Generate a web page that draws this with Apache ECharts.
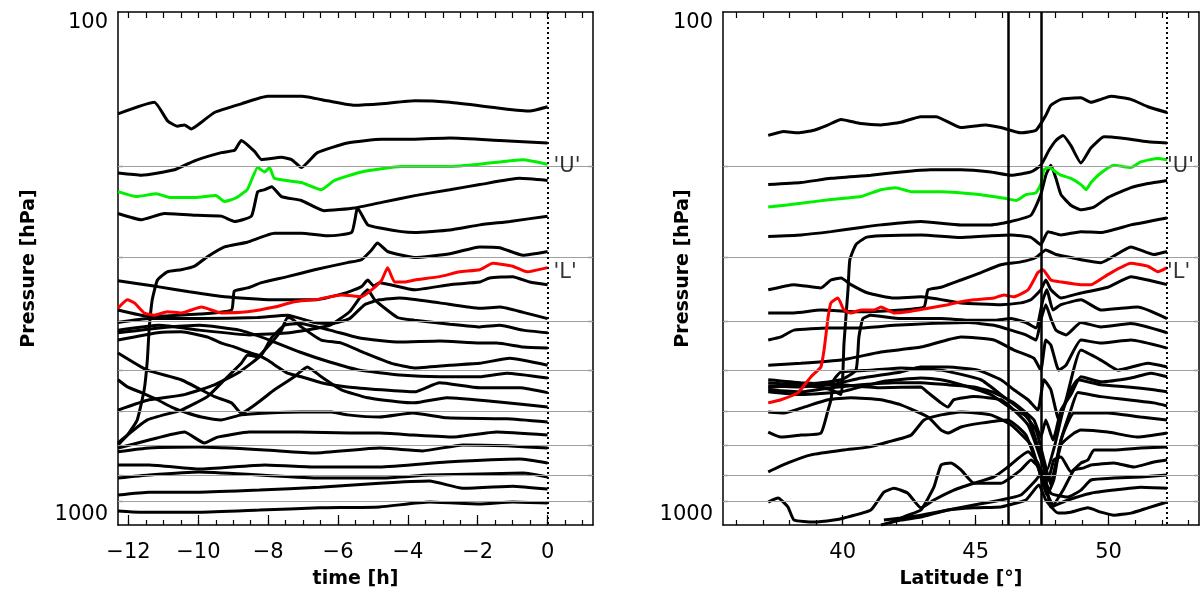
<!DOCTYPE html>
<html><head><meta charset="utf-8">
<script src="https://cdn.jsdelivr.net/npm/echarts@6.0.0/dist/echarts.min.js"></script>
<style>html,body{margin:0;padding:0;background:#fff}#c{width:1203px;height:603px}</style>
</head><body><div id="c"></div>
<script>
// ---------- axis / reference values ----------
const levels = [200, 300, 400, 500, 600, 700, 800, 900];
const timeTicks = [-12, -10, -8, -6, -4, -2, 0];
const timeMinor = [-12, -11.5, -11, -10.5, -10, -9.5, -9, -8.5, -8, -7.5, -7, -6.5, -6, -5.5, -5, -4.5, -4, -3.5, -3, -2.5, -2, -1.5, -1, -0.5, 0, 0.5, 1];
const latTicks = [40, 45, 50];
const latMinor = [36, 37, 38, 39, 40, 41, 42, 43, 44, 45, 46, 47, 48, 49, 50, 51, 52, 53];
const timeEnd = 0;
const latEnd = 52.2;
const latFronts = [46.24, 47.47];
const labelU = 200;
const labelL = 322;

// ---------- left panel: pressure (hPa) vs time (h) ----------
const t_black1 = [[-12.3,158],[-11.26,150],[-10.88,163],[-10.6,167],[-10.4,166],[-10.2,169],[-9.91,164],[-9.54,157],[-8.77,151],[-8.02,146],[-7.04,146],[-6.3,149],[-5.53,152],[-4.75,151],[-3.8,149],[-2.8,150],[-1.37,154],[-0.51,156],[0,153]];
const t_black2 = [[-12.3,206],[-11.63,208],[-10.68,203],[-10.11,195],[-9.34,188],[-8.96,186],[-8.77,178],[-8.39,187],[-8.19,194],[-7.62,192],[-7.33,194],[-7.05,201],[-6.59,188],[-5.73,180],[-4.75,177],[-3.81,177],[-2.8,176],[-1.37,178],[0,180]];
const t_green = [[-12.3,224],[-11.77,229],[-11.2,226],[-10.8,230],[-10.1,230],[-9.5,228],[-9.25,234],[-8.96,231],[-8.6,222],[-8.3,201],[-8.1,205],[-7.96,201],[-7.82,211],[-7.05,215],[-6.48,222],[-6.1,213],[-5.33,205],[-4.18,200],[-2.8,200],[-1.95,198],[-0.7,194],[0,198]];
const t_black3 = [[-12.3,247],[-11.63,254],[-10.97,247],[-10.03,249],[-9.34,250],[-8.96,256],[-8.48,250],[-8.3,224],[-8.1,222],[-7.9,219],[-7.62,229],[-7.05,233],[-6.4,244],[-5.53,241],[-4.75,235],[-3.8,228],[-2.8,222],[-1.94,217],[-0.8,211],[0,213]];
const t_black4 = [[-12.3,698],[-12.03,668],[-11.75,624],[-11.55,545],[-11.46,477],[-11.41,417],[-11.32,364],[-11.17,333],[-10.89,321],[-10.49,318],[-10.11,313],[-9.74,300],[-9.25,287],[-8.6,281],[-7.82,270],[-7.05,270],[-6.3,273],[-5.61,269],[-5.44,241],[-5.15,260],[-4.75,264],[-4.18,268],[-3.81,269],[-2.8,266],[-1.94,260],[-1.08,256],[0,250]];
const t_black5 = [[-12.3,381],[-11.41,392],[-9.97,388],[-9.05,381],[-8.97,350],[-8.59,345],[-8.19,337],[-7.45,328],[-6.67,318],[-5.73,308],[-5.33,304],[-5.04,291],[-4.87,282],[-4.58,293],[-3.81,301],[-2.8,296],[-1.94,287],[-1.37,288],[-0.7,298],[0,293]];
const t_red = [[-12.3,378],[-12.03,364],[-11.83,369],[-11.55,386],[-11.26,390],[-10.89,384],[-10.49,386],[-9.91,376],[-9.34,386],[-8.6,384],[-7.82,376],[-7.25,367],[-6.67,364],[-5.9,356],[-5.33,359],[-5.04,348],[-4.75,333],[-4.58,315],[-4.38,336],[-4.1,336],[-3.8,333],[-3.09,328],[-2.52,321],[-1.94,318],[-1.57,309],[-1.0,313],[-0.59,321],[0,315]];
const t_black6 = [[-12.3,334],[-11.17,343],[-10.26,351],[-9.25,359],[-7.9,364],[-6.67,364],[-5.73,352],[-5.33,343],[-5.15,333],[-4.98,342],[-4.81,337],[-3.81,348],[-2.8,340],[-1.94,336],[-1.66,330],[-1.0,328],[-0.51,336],[0,340]];
const t_black7 = [[-12.3,403],[-11.41,396],[-9.97,396],[-8.31,394],[-7.45,390],[-6.67,403],[-6.18,405],[-5.67,396],[-5.24,372],[-4.81,364],[-4.24,361],[-3.09,369],[-1.94,378],[-1.37,376],[-0.7,385],[0,396]];
const t_black8 = [[-12.3,417],[-11.12,408],[-9.97,417],[-8.54,426],[-7.39,422],[-6.24,408],[-5.67,384],[-5.38,361],[-5.15,348],[-4.95,364],[-4.3,394],[-3.81,399],[-2.8,406],[-1.94,411],[-1.37,408],[-0.7,417],[0,422]];
const t_black9 = [[-12.3,597],[-11.41,570],[-10.4,557],[-9.54,533],[-8.82,503],[-8.19,466],[-7.91,432],[-7.53,408],[-7.1,405],[-6.24,417],[-5.38,432],[-4.24,440],[-3.09,438],[-1.94,442],[-1.46,442],[-0.7,450],[0,452]];
const t_black10 = [[-12.3,692],[-11.46,624],[-10.49,597],[-9.74,562],[-9.25,521],[-8.77,484],[-8.59,466],[-8.31,470],[-8.02,450],[-7.62,417],[-7.45,394],[-7.33,396],[-7.05,411],[-6.48,436],[-5.9,442],[-5.24,462],[-4.47,484],[-3.81,494],[-2.8,488],[-1.94,484],[-1.08,473],[0,488]];
const t_black11 = [[-12.3,422],[-11.12,413],[-9.97,408],[-8.82,417],[-7.96,436],[-7.1,460],[-6.24,481],[-5.38,499],[-4.24,510],[-3.09,514],[-1.94,514],[-1.17,506],[0,517]];
const t_black12 = [[-12.3,436],[-11.17,422],[-10.49,420],[-9.74,430],[-9.34,442],[-8.96,450],[-8.59,460],[-8.31,466],[-8.02,477],[-7.73,492],[-7.45,506],[-7.05,514],[-6.48,528],[-5.73,538],[-4.75,545],[-3.81,550],[-3.09,528],[-1.94,540],[-0.79,540],[0,552]];
const t_black13 = [[-12.3,462],[-11.46,499],[-10.49,521],[-9.54,562],[-9.05,578],[-8.77,605],[-7.82,545],[-7.25,514],[-6.88,492],[-6.48,514],[-5.9,545],[-5.15,565],[-4.3,575],[-3.81,578],[-2.89,565],[-1.46,575],[0,589]];
const t_black14 = [[-12.3,521],[-12.03,538],[-11.63,552],[-11.17,570],[-10.77,589],[-10.31,605],[-9.91,616],[-9.34,624],[-8.77,610],[-8.02,605],[-7.05,602],[-6.19,602],[-5.73,610],[-4.81,616],[-3.86,605],[-2.89,618],[-1.17,621],[0,630]];
const t_black15 = [[-12.3,708],[-11.41,683],[-10.4,659],[-9.83,692],[-9.45,674],[-8.54,659],[-7.1,659],[-5.67,662],[-4.81,662],[-3.86,668],[-2.71,674],[-1.46,659],[0,668]];
const t_black16 = [[-12.3,720],[-11.41,708],[-9.97,705],[-8.1,714],[-6.67,724],[-4.81,708],[-3.58,717],[-2.43,698],[-1.17,701],[0,708]];
const t_black17 = [[-12.3,764],[-11.41,764],[-9.97,778],[-8.1,764],[-6.67,771],[-4.81,771],[-2.89,754],[-0.79,744],[0,757]];
const t_black18 = [[-12.3,810],[-11.41,799],[-9.97,788],[-8.25,799],[-6.53,810],[-4.81,810],[-3.38,799],[-1.94,795],[-0.7,792],[0,806]];
const t_black19 = [[-12.3,874],[-11.41,863],[-9.97,863],[-8.25,855],[-6.53,844],[-4.81,829],[-3.38,821],[-2.43,848],[-1.0,840],[0,851]];
const t_black20 = [[-12.3,939],[-11.69,944],[-9.97,944],[-8.25,935],[-6.53,926],[-4.81,922],[-3.38,902],[-1.94,910],[-1.0,902],[0,906]];

// ---------- right panel: pressure (hPa) vs latitude (deg) ----------
const lat_black1 = [[37.2,174],[37.79,171],[38.32,172],[38.92,170],[39.45,166],[39.94,162],[40.69,165],[41.44,166],[42.19,164],[42.94,160],[43.51,160],[44.45,168],[45.38,166],[45.95,168],[46.7,172],[47.27,170],[47.64,159],[47.83,152],[48.21,148],[48.96,147],[49.34,150],[49.71,148],[50.09,146],[50.84,148],[51.48,153],[52.2,157]];
const lat_black2 = [[37.2,217],[38.43,215],[39.56,211],[41.06,208],[42.19,205],[43.32,203],[44.45,203],[45.57,205],[46.33,208],[47.08,205],[47.45,199],[47.76,186],[48.02,178],[48.29,174],[48.58,182],[48.96,197],[49.34,184],[49.83,175],[50.46,176],[51.48,179],[52.2,180]];
const lat_green = [[37.2,240],[38.43,236],[39.56,232],[40.69,229],[41.44,222],[42.0,220],[42.57,224],[43.7,224],[45.2,227],[46.14,231],[46.52,233],[46.89,227],[47.27,225],[47.45,217],[47.57,203],[47.76,201],[48.02,205],[48.21,208],[48.58,211],[48.96,217],[49.15,222],[49.34,215],[49.71,206],[50.2,199],[50.84,201],[51.21,196],[51.85,193],[52.2,194]];
const lat_black3 = [[37.2,274],[38.43,272],[39.56,268],[40.69,263],[41.44,260],[42.94,256],[44.45,260],[45.57,260],[46.33,256],[47.08,249],[47.45,227],[47.64,208],[47.83,199],[48.02,211],[48.21,227],[48.58,238],[48.96,243],[49.45,240],[49.97,230],[50.84,220],[51.48,216],[52.2,213]];
const lat_black4 = [[37.2,540],[38.43,533],[39.56,545],[39.94,557],[40.05,442],[40.2,348],[40.27,304],[40.5,284],[40.88,275],[41.44,273],[42.94,272],[44.45,275],[45.57,273],[46.33,272],[47.08,275],[47.45,284],[47.72,268],[48.21,272],[48.96,268],[49.71,269],[50.84,260],[52.2,252]];
const lat_black5 = [[37.2,386],[38.17,386],[39.18,381],[40.69,384],[42.19,381],[43.06,376],[43.21,348],[43.7,344],[44.45,333],[45.2,322],[45.95,311],[46.7,307],[47.27,301],[47.64,291],[48.02,297],[48.58,301],[48.96,304],[49.71,308],[50.84,287],[51.7,297],[52.2,293]];
const lat_red = [[37.2,578],[37.68,570],[38.32,552],[38.81,514],[39.18,492],[39.3,456],[39.45,394],[39.56,369],[39.82,361],[40.05,381],[40.31,386],[40.69,381],[41.18,381],[41.44,376],[41.93,386],[42.45,384],[43.21,378],[43.96,372],[44.45,367],[44.94,364],[45.69,361],[46.06,356],[46.44,359],[46.97,348],[47.19,333],[47.34,322],[47.53,318],[47.83,333],[48.21,336],[48.96,340],[49.34,340],[49.97,325],[50.84,309],[51.48,313],[51.85,321],[52.2,315]];
const lat_black6 = [[37.2,348],[38.17,340],[39.18,345],[39.56,333],[39.94,330],[40.31,340],[40.95,353],[41.93,361],[42.94,359],[44.45,369],[45.95,372],[46.7,369],[47.08,364],[47.45,348],[47.64,333],[47.83,348],[48.21,361],[48.96,353],[49.97,344],[50.84,328],[51.48,333],[52.2,340]];
const lat_black7 = [[37.2,528],[38.43,533],[39.94,521],[40.5,499],[40.61,430],[40.76,396],[41.06,390],[42.19,396],[43.7,396],[44.82,399],[45.69,399],[46.33,396],[46.89,403],[47.27,413],[47.53,364],[47.68,348],[47.91,381],[48.21,372],[48.96,364],[49.71,381],[50.46,378],[51.1,376],[52.2,396]];
const lat_black8 = [[37.2,436],[37.68,430],[38.17,417],[39.45,413],[40.69,413],[41.93,408],[43.21,405],[44.71,403],[45.69,408],[46.33,417],[46.89,426],[47.27,436],[47.45,399],[47.64,372],[47.83,396],[48.02,417],[48.4,426],[48.96,403],[49.71,411],[50.84,405],[52.2,422]];
const lat_black9 = [[37.2,488],[38.43,484],[39.94,477],[41.44,460],[42.94,450],[44.45,430],[45.69,436],[46.44,456],[47.19,473],[47.45,499],[47.64,436],[47.83,446],[48.13,499],[48.4,488],[48.96,436],[49.71,442],[50.84,436],[52.2,452]];
const lat_black10 = [[37.2,535],[38.43,538],[39.56,533],[40.69,517],[42.19,503],[42.94,492],[43.96,492],[45.09,499],[45.95,521],[46.44,545],[46.97,570],[47.34,597],[47.57,521],[47.83,545],[48.13,624],[48.4,570],[48.96,456],[49.71,477],[50.35,499],[51.48,484],[52.2,492]];
const lat_black11 = [[37.2,545],[38.43,550],[39.56,540],[40.69,533],[41.93,528],[42.94,528],[43.96,533],[44.94,538],[45.69,552],[46.44,578],[47.19,624],[47.45,674],[47.64,624],[47.91,683],[48.21,597],[48.58,557],[48.96,514],[49.71,526],[50.84,517],[51.59,506],[52.2,514]];
const lat_black12 = [[37.2,550],[38.43,557],[39.94,550],[41.44,526],[42.94,517],[43.7,521],[44.45,533],[45.57,557],[46.44,597],[46.97,616],[47.38,714],[47.68,781],[47.98,698],[48.29,597],[48.58,545],[48.85,521],[49.71,533],[50.73,538],[51.7,545],[52.2,550]];
const lat_black13 = [[37.2,521],[38.43,528],[39.94,533],[41.44,540],[42.94,538],[43.21,552],[43.7,578],[43.96,589],[44.18,570],[44.94,562],[45.95,570],[46.44,597],[46.97,638],[47.27,698],[47.53,764],[47.83,817],[48.21,683],[48.58,597],[48.85,552],[49.71,562],[50.73,570],[51.7,578],[52.2,586]];
const lat_black14 = [[37.2,602],[37.79,605],[38.55,589],[39.45,570],[40.31,565],[41.44,570],[42.19,583],[43.21,616],[43.7,653],[43.96,662],[44.45,644],[45.2,633],[46.21,624],[46.89,668],[47.38,781],[47.68,874],[47.94,817],[48.21,683],[48.7,605],[49.97,605],[51.21,616],[52.2,624]];
const lat_black15 = [[37.2,659],[37.68,674],[38.43,668],[39.18,662],[39.45,597],[39.56,570],[39.67,521],[39.94,503],[41.06,499],[42.19,494],[43.7,499],[45.2,521],[45.95,557],[46.7,597],[47.27,653],[47.57,747],[47.83,836],[48.21,698],[48.7,662],[48.96,653],[49.97,659],[51.1,674],[52.2,662]];
const lat_black16 = [[37.2,788],[37.94,757],[38.81,730],[40.05,714],[40.95,705],[41.7,689],[42.57,668],[43.06,624],[43.7,610],[44.45,602],[45.57,610],[46.33,638],[47.08,698],[47.45,799],[47.72,817],[47.94,747],[48.21,737],[48.58,788],[48.96,757],[49.22,747],[49.45,714],[50.2,714],[51.21,708],[52.2,705]];
const lat_black17 = [[37.2,902],[37.57,886],[37.94,922],[38.17,978],[38.92,987],[39.67,978],[40.05,969],[41.06,935],[41.55,863],[41.93,848],[42.45,867],[42.94,926],[43.43,894],[44.18,855],[44.94,829],[45.69,806],[46.21,771],[46.97,720],[47.34,757],[47.64,855],[47.91,914],[48.29,855],[48.7,781],[49.07,774],[49.34,764],[50.2,757],[50.95,771],[51.7,754],[52.2,747]];
const lat_black18 = [[41.82,987],[42.45,957],[42.94,935],[43.43,844],[43.7,764],[44.07,757],[44.45,781],[44.94,829],[45.95,829],[46.7,781],[47.08,747],[47.45,781],[47.83,867],[48.47,882],[48.96,855],[49.34,817],[50.2,810],[51.21,806],[52.2,799]];
const lat_black19 = [[41.55,978],[42.19,969],[42.94,957],[43.96,935],[44.94,914],[45.95,894],[46.7,874],[47.27,817],[47.57,781],[47.83,922],[48.47,894],[49.34,867],[50.2,855],[51.21,844],[52.2,848]];
const lat_black20 = [[41.44,1000],[42.19,978],[42.94,965],[43.96,935],[44.94,926],[45.95,922],[46.25,914],[46.89,894],[47.38,836],[47.64,894],[48.1,948],[48.58,944],[49.22,926],[49.71,944],[50.2,957],[50.84,948],[51.48,926],[52.2,902]];

// ---------- build chart ----------
const FONT = 'DejaVu Sans';
const leftBlack = [t_black1,t_black2,t_black3,t_black4,t_black5,t_black6,t_black7,t_black8,t_black9,t_black10,t_black11,t_black12,t_black13,t_black14,t_black15,t_black16,t_black17,t_black18,t_black19,t_black20];
const rightBlack = [lat_black1,lat_black2,lat_black3,lat_black4,lat_black5,lat_black6,lat_black7,lat_black8,lat_black9,lat_black10,lat_black11,lat_black12,lat_black13,lat_black14,lat_black15,lat_black16,lat_black17,lat_black18,lat_black19,lat_black20];

const fmtX = v => (v < 0 ? '\u2212' + Math.abs(v) : String(v));
const axisLineStyle = { color: '#000', width: 1.5 };
const tickStyle = { color: '#000', width: 1.2 };

function xAxes(grid, min, max, major, minor, name) {
  return [
    { gridIndex: grid, type: 'value', min, max, position: 'bottom',
      axisLine: { show: true, onZero: false, lineStyle: axisLineStyle },
      axisTick: { show: true, inside: true, length: 10, customValues: major, lineStyle: tickStyle },
      axisLabel: { show: true, customValues: major, formatter: fmtX, fontFamily: FONT, fontSize: 21, color: '#000', margin: 17 },
      splitLine: { show: false },
      name, nameLocation: 'middle', nameGap: 45, nameMoveOverlap: false,
      nameTextStyle: { fontFamily: FONT, fontWeight: 'bold', fontSize: 19, color: '#000' } },
    { gridIndex: grid, type: 'value', min, max, position: 'bottom',
      axisLine: { show: false, onZero: false },
      axisTick: { show: true, inside: true, length: 5, customValues: minor, lineStyle: tickStyle },
      axisLabel: { show: false }, splitLine: { show: false } },
    { gridIndex: grid, type: 'value', min, max, position: 'top',
      axisLine: { show: true, onZero: false, lineStyle: axisLineStyle },
      axisTick: { show: true, inside: true, length: 6, customValues: minor, lineStyle: tickStyle },
      axisLabel: { show: false }, splitLine: { show: false } }
  ];
}
function yAxes(grid, nameGap) {
  return [
    { gridIndex: grid, type: 'log', logBase: 10, min: 100, max: 1000, inverse: true, position: 'left',
      axisLine: { show: true, onZero: false, lineStyle: axisLineStyle },
      axisTick: { show: true, inside: true, length: 5, customValues: levels, lineStyle: tickStyle },
      axisLabel: { show: true, customValues: [100, 1000], formatter: v => String(Math.round(v)),
        fontFamily: FONT, fontSize: 21, color: '#000', margin: 10,
        verticalAlignMinLabel: 'top', verticalAlignMaxLabel: 'bottom' },
      splitLine: { show: false },
      name: 'Pressure [hPa]', nameLocation: 'middle', nameGap, nameRotate: 90, nameMoveOverlap: false,
      nameTextStyle: { fontFamily: FONT, fontWeight: 'bold', fontSize: 19, color: '#000' } },
    { gridIndex: grid, type: 'log', logBase: 10, min: 100, max: 1000, inverse: true, position: 'right',
      axisLine: { show: true, onZero: false, lineStyle: axisLineStyle },
      axisTick: { show: true, inside: true, length: 5, customValues: levels, lineStyle: tickStyle },
      axisLabel: { show: false }, splitLine: { show: false } }
  ];
}

function line(data, xi, yi, color, z) {
  return { type: 'line', xAxisIndex: xi, yAxisIndex: yi, data, showSymbol: false, symbol: 'none',
    smooth: 0.15, lineStyle: { color, width: 3 }, z, silent: true, animation: false };
}
function marks(xi, yi, vertical) {
  const s = [];
  s.push({ type: 'line', xAxisIndex: xi, yAxisIndex: yi, data: [], z: 1, silent: true,
    markLine: { silent: true, symbol: ['none', 'none'], animation: false, label: { show: false },
      lineStyle: { color: '#a0a0a0', width: 1, type: 'solid' },
      data: levels.map(v => ({ yAxis: v })) } });
  s.push({ type: 'line', xAxisIndex: xi, yAxisIndex: yi, data: [], z: 5, silent: true,
    markLine: { silent: true, symbol: ['none', 'none'], animation: false, label: { show: false },
      lineStyle: { color: '#000', width: 2, type: [2, 3] },
      data: [{ xAxis: vertical.end }] } });
  if (vertical.fronts) {
    s.push({ type: 'line', xAxisIndex: xi, yAxisIndex: yi, data: [], z: 5, silent: true,
      markLine: { silent: true, symbol: ['none', 'none'], animation: false, label: { show: false },
        lineStyle: { color: '#000', width: 2.5, type: 'solid' },
        data: vertical.fronts.map(v => ({ xAxis: v })) } });
  }
  s.push({ type: 'scatter', xAxisIndex: xi, yAxisIndex: yi, symbolSize: 0, z: 10, silent: true,
    data: [{ value: [vertical.end, labelU], label: { formatter: "'U'" } },
           { value: [vertical.end, labelL], label: { formatter: "'L'" } }],
    label: { show: true, position: 'right', distance: vertical.dist, color: '#000', fontFamily: FONT, fontSize: 21 } });
  return s;
}

const series = [];
series.push(...marks(0, 0, { end: timeEnd, dist: 6 }));
series.push(...marks(3, 2, { end: latEnd, fronts: latFronts, dist: 0 }));
leftBlack.forEach(d => series.push(line(d, 0, 0, '#000', 3)));
rightBlack.forEach(d => series.push(line(d, 3, 2, '#000', 3)));
series.push(line(t_green, 0, 0, '#00f000', 4));
series.push(line(t_red, 0, 0, '#ff0000', 4));
series.push(line(lat_green, 3, 2, '#00f000', 4));
series.push(line(lat_red, 3, 2, '#ff0000', 4));

const option = {
  backgroundColor: '#fff',
  animation: false,
  grid: [
    { left: 118, top: 12, width: 475, height: 513 },
    { left: 723, top: 12, width: 476, height: 513 }
  ],
  xAxis: [
    ...xAxes(0, -12.3, 1.3, timeTicks, timeMinor, 'time [h]'),
    ...xAxes(1, 35.5, 53.4, latTicks, latMinor, 'Latitude [\u00b0]')
  ],
  yAxis: [ ...yAxes(0, 79), ...yAxes(1, 30) ],
  series
};
const chart = echarts.init(document.getElementById('c'), null, { renderer: 'canvas' });
chart.setOption(option);
</script></body></html>
